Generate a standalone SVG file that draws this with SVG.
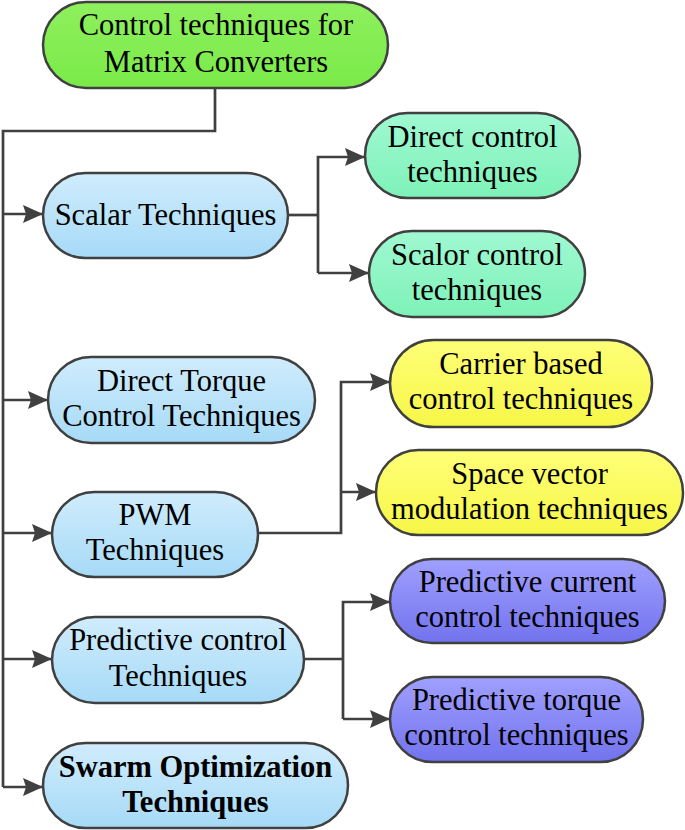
<svg xmlns="http://www.w3.org/2000/svg" width="685" height="830" viewBox="0 0 685 830">
<defs>
<linearGradient id="gBlue" x1="0" y1="0" x2="0" y2="1"><stop offset="0" stop-color="#d0ecfc"/><stop offset="1" stop-color="#a6daf7"/></linearGradient>
<linearGradient id="gGreen" x1="0" y1="0" x2="0" y2="1"><stop offset="0" stop-color="#8ef05e"/><stop offset="1" stop-color="#7aea48"/></linearGradient>
<linearGradient id="gMint" x1="0" y1="0" x2="0" y2="1"><stop offset="0" stop-color="#a0f8d2"/><stop offset="1" stop-color="#7ef2b8"/></linearGradient>
<linearGradient id="gYellow" x1="0" y1="0" x2="0" y2="1"><stop offset="0" stop-color="#ffff78"/><stop offset="1" stop-color="#f6f648"/></linearGradient>
<linearGradient id="gPurple" x1="0" y1="0" x2="0" y2="1"><stop offset="0" stop-color="#a0a0ff"/><stop offset="1" stop-color="#7272ee"/></linearGradient>
<marker id="arr" markerUnits="userSpaceOnUse" markerWidth="21" markerHeight="19" refX="20" refY="9" orient="auto"><path d="M0,0 L20,9 L0,18 L3,9 Z" fill="#404040"/></marker>
</defs>
<style>
.n{stroke:#404040;stroke-width:2.5}
.t{font-family:"Liberation Serif","Times New Roman",serif;font-size:30.5px;fill:#000;text-anchor:middle}
.b{font-weight:bold}
.c{fill:none;stroke:#404040;stroke-width:2.7}
</style>
<g id="connectors">
<path class="c" d="M215,88 V131 H3 V787"/>
<path class="c" d="M3,214 H43" marker-end="url(#arr)"/>
<path class="c" d="M3,400 H48" marker-end="url(#arr)"/>
<path class="c" d="M3,533 H52" marker-end="url(#arr)"/>
<path class="c" d="M3,659 H52" marker-end="url(#arr)"/>
<path class="c" d="M3,787 H43" marker-end="url(#arr)"/>
<path class="c" d="M288,215 H318"/>
<path class="c" d="M318,273 V157 H365" marker-end="url(#arr)"/>
<path class="c" d="M318,273 H369" marker-end="url(#arr)"/>
<path class="c" d="M258,533 H341 V382 H390" marker-end="url(#arr)"/>
<path class="c" d="M341,492 H376" marker-end="url(#arr)"/>
<path class="c" d="M304,659 H343"/>
<path class="c" d="M343,719 V602 H390" marker-end="url(#arr)"/>
<path class="c" d="M343,719 H390" marker-end="url(#arr)"/>
</g>
<g id="root">
<rect class="n" x="43" y="2" width="345" height="86" rx="43" fill="url(#gGreen)"/>
<text class="t" x="216" y="35">Control techniques for</text>
<text class="t" x="216" y="71.5">Matrix Converters</text>
</g>
<g id="scalar">
<rect class="n" x="43" y="173" width="245" height="85" rx="42.5" fill="url(#gBlue)"/>
<text class="t" x="165.5" y="225">Scalar Techniques</text>
</g>
<g id="direct-control">
<rect class="n" x="365" y="113" width="215" height="85" rx="42.5" fill="url(#gMint)"/>
<text class="t" x="472.5" y="147">Direct control</text>
<text class="t" x="472.5" y="182">techniques</text>
</g>
<g id="scalor-control">
<rect class="n" x="369" y="231" width="216" height="86" rx="43" fill="url(#gMint)"/>
<text class="t" x="477" y="265">Scalor control</text>
<text class="t" x="477" y="300">techniques</text>
</g>
<g id="dtc">
<rect class="n" x="48" y="357" width="267" height="86" rx="43" fill="url(#gBlue)"/>
<text class="t" x="181.5" y="391">Direct Torque</text>
<text class="t" x="181.5" y="426">Control Techniques</text>
</g>
<g id="pwm">
<rect class="n" x="52" y="492" width="206" height="85" rx="42.5" fill="url(#gBlue)"/>
<text class="t" x="155" y="525">PWM</text>
<text class="t" x="155" y="560">Techniques</text>
</g>
<g id="carrier">
<rect class="n" x="390" y="340" width="262" height="87" rx="43.5" fill="url(#gYellow)"/>
<text class="t" x="521" y="374">Carrier based</text>
<text class="t" x="521" y="409">control techniques</text>
</g>
<g id="svm">
<rect class="n" x="376" y="450" width="307" height="85" rx="42.5" fill="url(#gYellow)"/>
<text class="t" x="529.5" y="484">Space vector</text>
<text class="t" x="529.5" y="519">modulation techniques</text>
</g>
<g id="predictive">
<rect class="n" x="52" y="617" width="252" height="86" rx="43" fill="url(#gBlue)"/>
<text class="t" x="178" y="650">Predictive control</text>
<text class="t" x="178" y="686">Techniques</text>
</g>
<g id="swarm">
<rect class="n" x="43" y="743" width="305" height="85" rx="42.5" fill="url(#gBlue)"/>
<text class="t b" x="195.5" y="777">Swarm Optimization</text>
<text class="t b" x="195.5" y="812">Techniques</text>
</g>
<g id="pred-current">
<rect class="n" x="390" y="559" width="275" height="84" rx="42" fill="url(#gPurple)"/>
<text class="t" x="527.5" y="592">Predictive current</text>
<text class="t" x="527.5" y="627">control techniques</text>
</g>
<g id="pred-torque">
<rect class="n" x="390" y="677" width="253" height="85" rx="42.5" fill="url(#gPurple)"/>
<text class="t" x="516.5" y="710">Predictive torque</text>
<text class="t" x="516.5" y="745">control techniques</text>
</g>
</svg>
